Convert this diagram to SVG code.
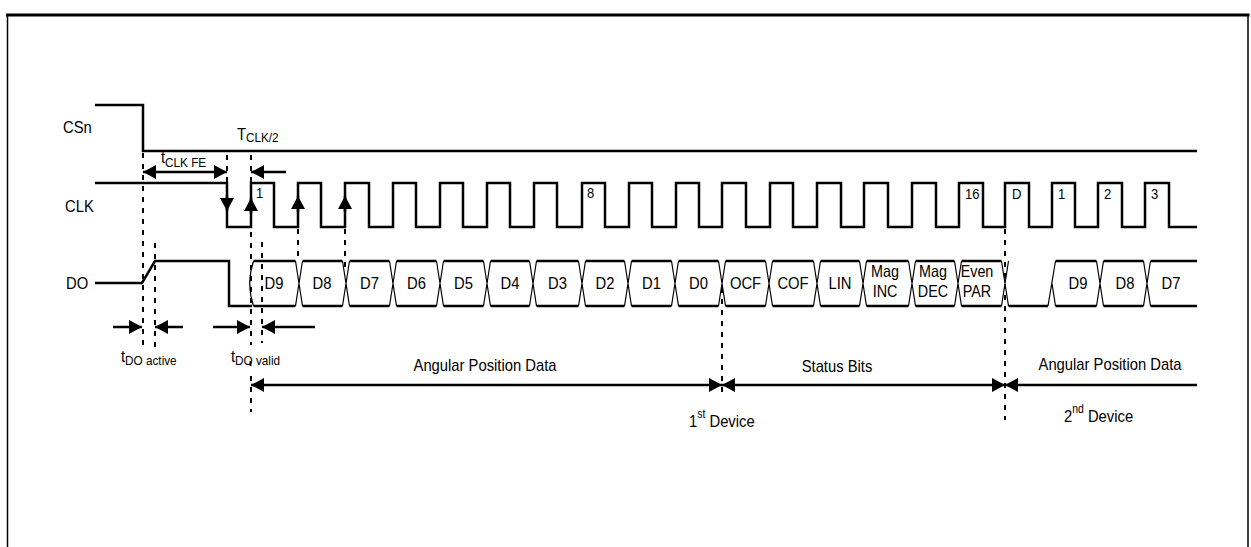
<svg xmlns="http://www.w3.org/2000/svg" width="1251" height="547" viewBox="0 0 1251 547">
<defs>
<marker id="ah" viewBox="0 0 13 14" refX="13" refY="7" markerWidth="13" markerHeight="14" markerUnits="userSpaceOnUse" orient="auto-start-reverse">
<path d="M0,0 L13,7 L0,14 z" fill="#000"/>
</marker>
</defs>
<style>
.w{fill:none;stroke:#000;stroke-width:2.5;stroke-linejoin:miter}
.th{fill:none;stroke:#000;stroke-width:1.2}
.ds{fill:none;stroke:#000;stroke-width:2;stroke-dasharray:5,6}
.ar{fill:none;stroke:#000;stroke-width:2.5;marker-end:url(#ah)}
.ar2{fill:none;stroke:#000;stroke-width:2.5;marker-start:url(#ah);marker-end:url(#ah)}
text{font-family:"Liberation Sans",Arial,sans-serif;font-size:17px;fill:#000}
.c{text-anchor:middle}
.n{font-size:13.5px}
.p{font-size:15px}
.m{font-size:16.5px}
</style>
<rect width="1251" height="547" fill="#fff"/>
<g id="frame">
<line x1="6" y1="15" x2="1249.5" y2="15" stroke="#000" stroke-width="3"/>
<line x1="7.5" y1="14" x2="7.5" y2="547" stroke="#000" stroke-width="1.5"/>
<line x1="1248" y1="14" x2="1248" y2="547" stroke="#000" stroke-width="1.5"/>
</g>
<g id="csn">
<text transform="translate(63,133) scale(0.87,1)">CSn</text>
<path class="w" d="M95,105H143V151H1197"/>
</g>
<g id="clk">
<text transform="translate(65,212) scale(0.87,1)">CLK</text>
<path class="w" d="M95,183H227V227H251V183H274V227H298V183H321V227H345V183H369V227H393V183H416V227H440V183H463V227H487V183H510V227H534V183H557V227H582V183H605V227H629V183H652V227H676V183H699V227H722V183H746V227H770V183H793V227H817V183H841V227H864V183H888V227H912V183H936V227H959V183H983V227H1005V183H1029V227H1052V183H1075V227H1098V183H1122V227H1145V183H1169V227H1197"/>
<text class="p" transform="translate(256,198) scale(0.87,1)">1</text>
<text class="p" transform="translate(587,198) scale(0.87,1)">8</text>
<text class="p" transform="translate(965,199) scale(0.87,1)">16</text>
<text class="p" transform="translate(1012,199) scale(0.87,1)">D</text>
<text class="p" transform="translate(1058,199) scale(0.87,1)">1</text>
<text class="p" transform="translate(1104,199) scale(0.87,1)">2</text>
<text class="p" transform="translate(1151,199) scale(0.87,1)">3</text>
</g>
<g id="do">
<text transform="translate(66,289) scale(0.87,1)">DO</text>
<path class="w" d="M95,283H142L155,261H229V306H252"/>
<path class="w" d="M253.5,261H295.5M302.5,261H342.5M349.5,261H389.5M396.5,261H436.5M443.5,261H483.5M490.5,261H529.5M536.5,261H578.5M585.5,261H624.5M631.5,261H671.5M678.5,261H718.5M725.5,261H765.5M772.5,261H813.5M820.5,261H859.5M866.5,261H908.5M915.5,261H954.5M961.5,261H1001.5M1055.5,261H1096.5M1103.5,261H1143.5M1150.5,261H1197"/>
<path class="w" d="M253.5,306H295.5M302.5,306H342.5M349.5,306H389.5M396.5,306H436.5M443.5,306H483.5M490.5,306H529.5M536.5,306H578.5M585.5,306H624.5M631.5,306H671.5M678.5,306H718.5M725.5,306H765.5M772.5,306H813.5M820.5,306H859.5M866.5,306H908.5M915.5,306H954.5M961.5,306H1001.5M1008.5,306H1048M1055.5,306H1096.5M1103.5,306H1143.5M1150.5,306H1197"/>
<path class="th" d="M253.5,261Q246,283.5 253.5,306
M295.5,261L302.5,306M295.5,306L302.5,261
M342.5,261L349.5,306M342.5,306L349.5,261
M389.5,261L396.5,306M389.5,306L396.5,261
M436.5,261L443.5,306M436.5,306L443.5,261
M483.5,261L490.5,306M483.5,306L490.5,261
M529.5,261L536.5,306M529.5,306L536.5,261
M578.5,261L585.5,306M578.5,306L585.5,261
M624.5,261L631.5,306M624.5,306L631.5,261
M671.5,261L678.5,306M671.5,306L678.5,261
M718.5,261L725.5,306M718.5,306L725.5,261
M765.5,261L772.5,306M765.5,306L772.5,261
M813.5,261L820.5,306M813.5,306L820.5,261
M859.5,261L866.5,306M859.5,306L866.5,261
M908.5,261L915.5,306M908.5,306L915.5,261
M954.5,261L961.5,306M954.5,306L961.5,261
M1001.5,261L1008.5,306M1001.5,306L1008.5,261
M1048,306L1055.5,261M1052,283.5L1055.5,306
M1096.5,261L1103.5,306M1096.5,306L1103.5,261
M1143.5,261L1150.5,306M1143.5,306L1150.5,261"/>
<text class="c" transform="translate(274,289) scale(0.87,1)">D9</text>
<text class="c" transform="translate(322,289) scale(0.87,1)">D8</text>
<text class="c" transform="translate(369.5,289) scale(0.87,1)">D7</text>
<text class="c" transform="translate(416.5,289) scale(0.87,1)">D6</text>
<text class="c" transform="translate(463.5,289) scale(0.87,1)">D5</text>
<text class="c" transform="translate(510,289) scale(0.87,1)">D4</text>
<text class="c" transform="translate(557.5,289) scale(0.87,1)">D3</text>
<text class="c" transform="translate(605,289) scale(0.87,1)">D2</text>
<text class="c" transform="translate(651.5,289) scale(0.87,1)">D1</text>
<text class="c" transform="translate(698.5,289) scale(0.87,1)">D0</text>
<text class="c" transform="translate(745.5,289) scale(0.87,1)">OCF</text>
<text class="c" transform="translate(793,289) scale(0.87,1)">COF</text>
<text class="c" transform="translate(840,289) scale(0.87,1)">LIN</text>
<text class="c m" transform="translate(885,277) scale(0.87,1)">Mag</text>
<text class="c m" transform="translate(885,297) scale(0.87,1)">INC</text>
<text class="c m" transform="translate(933,277) scale(0.87,1)">Mag</text>
<text class="c m" transform="translate(933,297) scale(0.87,1)">DEC</text>
<text class="c m" transform="translate(977,277) scale(0.87,1)">Even</text>
<text class="c m" transform="translate(977,297) scale(0.87,1)">PAR</text>
<text class="c" transform="translate(1078,289) scale(0.87,1)">D9</text>
<text class="c" transform="translate(1125,289) scale(0.87,1)">D8</text>
<text class="c" transform="translate(1171,289) scale(0.87,1)">D7</text>
</g>
<g id="connectors">
<line class="ds" x1="143" y1="153" x2="143" y2="347"/>
<line class="ds" x1="155" y1="243" x2="155" y2="347"/>
<line class="ds" x1="227" y1="155" x2="227" y2="183"/>
<line class="ds" x1="251" y1="155" x2="251" y2="183"/>
<line class="ds" x1="251" y1="232" x2="251" y2="345"/>
<line x1="250.5" y1="361" x2="250.5" y2="366" stroke="#000" stroke-width="2"/>
<line class="ds" x1="251" y1="376" x2="251" y2="412"/>
<line class="ds" x1="262" y1="242" x2="262" y2="343"/>
<line class="ds" x1="298" y1="229" x2="298" y2="261"/>
<line class="ds" x1="345" y1="229" x2="345" y2="272"/>
<line class="ds" x1="722" y1="288" x2="722" y2="398"/>
<line class="ds" x1="1005" y1="229" x2="1005" y2="420"/>
<line class="ar2" x1="143" y1="172" x2="227" y2="172"/>
<line class="ar" x1="286" y1="172" x2="251" y2="172"/>
<line class="ar" x1="227" y1="195" x2="227" y2="211"/>
<line class="ar" x1="251" y1="214" x2="251" y2="198"/>
<line class="ar" x1="298" y1="212" x2="298" y2="196"/>
<line class="ar" x1="345" y1="212" x2="345" y2="196"/>
<line class="ar" x1="113" y1="327" x2="142" y2="327"/>
<line class="ar" x1="183" y1="327" x2="155" y2="327"/>
<line class="ar" x1="213" y1="327" x2="250" y2="327"/>
<line class="ar" x1="315" y1="327" x2="262" y2="327"/>
<line class="ar2" x1="251" y1="385" x2="722" y2="385"/>
<line class="ar2" x1="722" y1="385" x2="1005" y2="385"/>
<line class="ar" x1="1197" y1="385" x2="1005" y2="385"/>
</g>
<g id="labels">
<text transform="translate(237,140) scale(0.87,1)">T<tspan class="n" dy="2">CLK/2</tspan></text>
<text transform="translate(161,163) scale(0.87,1)">t<tspan class="n" dy="4">CLK FE</tspan></text>
<text transform="translate(121,362) scale(0.87,1)">t<tspan class="n" dy="3">DO active</tspan></text>
<text transform="translate(231,362) scale(0.87,1)">t<tspan class="n" dy="3">DO valid</tspan></text>
<text class="c" transform="translate(485,371) scale(0.87,1)">Angular Position Data</text>
<text class="c" transform="translate(837,372) scale(0.87,1)">Status Bits</text>
<text class="c" transform="translate(1110,370) scale(0.87,1)">Angular Position Data</text>
<text transform="translate(689,427) scale(0.87,1)">1<tspan font-size="12" dy="-9">st</tspan><tspan dy="9"> Device</tspan></text>
<text transform="translate(1064,422) scale(0.87,1)">2<tspan font-size="12" dy="-9">nd</tspan><tspan dy="9"> Device</tspan></text>
</g>
</svg>
